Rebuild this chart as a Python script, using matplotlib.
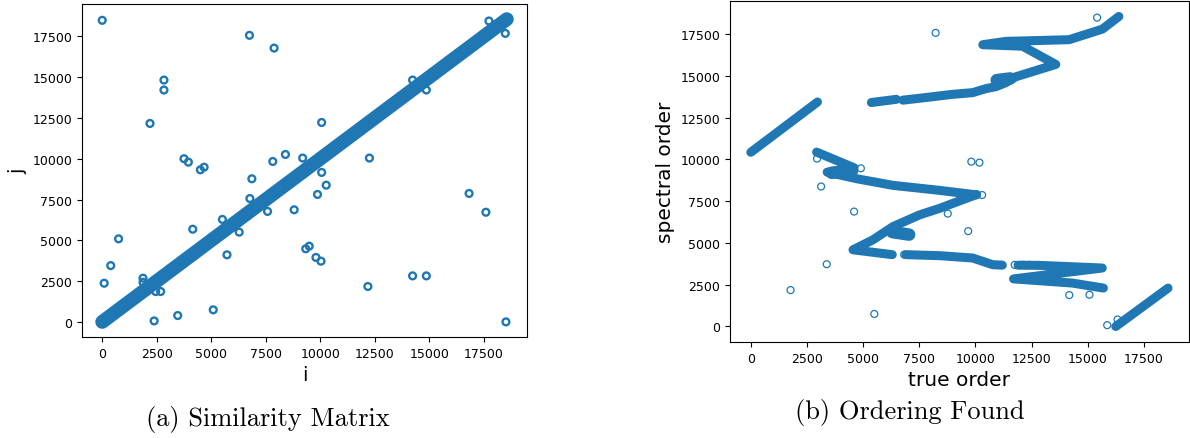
import matplotlib
matplotlib.use("Agg")
import matplotlib.pyplot as plt

# ---- (a) similarity matrix ----
diag_ends = [0, 18550]
sim_i = [0, 18510, 6750, 7880, 2830, 2830, 2190, 3750, 3950, 4500, 4670, 4150, 750, 390, 90,
         1870, 1870, 2450, 2680, 2380, 3460, 5090, 5510, 5720, 6280, 6770, 6860, 7580, 7820,
         8400, 8800, 9190, 10060, 10060, 10270, 9870, 9330, 9490, 9800, 10030, 12250, 12180,
         14230, 14860, 14230, 14860, 16820, 17590, 17730, 18480, 12020]
sim_j = [18480, 0, 17560, 16780, 14820, 14210, 12160, 10000, 9790, 9320, 9480, 5680, 5090, 3450, 2370,
         2680, 2430, 1860, 1860, 60, 390, 740, 6280, 4110, 5500, 7560, 8770, 6770, 9830,
         10260, 6870, 10040, 12220, 9160, 8380, 7810, 4480, 4640, 3950, 3720, 10040, 2170,
         14820, 14210, 2820, 2820, 7870, 6720, 18440, 17680, 11980]

# ---- (b) ordering found: traced bands (true order, spectral order) ----
band_x = [
    [0, 2970],
    [5370, 6480],
    [6770, 7810, 8990, 9880, 10470, 10920, 11360, 11800, 13580, 12100, 10330, 11360, 14170, 15650, 16390],
    [2930, 4600, 3400, 4700, 6330, 8400, 10050],
    [10050, 8400, 7510, 6330, 5440, 4550, 6300],
    [6900, 8400, 9880, 10770, 11200],
    [11900, 12840, 15650, 11700, 14320, 15700],
    [16250, 18580],
]
band_y = [
    [10430, 13440],
    [13410, 13600],
    [13550, 13710, 13900, 14000, 14240, 14360, 14600, 14950, 15690, 16780, 16870, 17070, 17170, 17800, 18560],
    [10440, 9500, 9240, 8850, 8450, 8150, 7880],
    [7900, 7070, 6680, 5980, 5190, 4590, 4300],
    [4300, 4240, 4100, 3700, 3670],
    [3670, 3660, 3500, 2850, 2600, 2300],
    [0, 2300],
]
blob_x = [[10950, 11550], [6300, 7050], [3600, 4500]]
blob_y = [[14750, 14850], [5650, 5500], [9200, 9300]]

ord_x = [8230, 15420, 2950, 4900, 3130, 9820, 10180, 10300, 4600, 8770, 9680, 3380, 1770, 5500,
         14180, 15080, 15870, 16330, 5380, 6800, 6620, 6830, 11170, 11750, 12100, 12420, 11200, 11450]
ord_y = [17580, 18490, 10050, 9470, 8380, 9870, 9810, 7870, 6880, 6760, 5710, 3730, 2180, 750,
         1880, 1900, 80, 420, 13400, 13560, 8400, 4300, 3690, 3690, 3690, 3690, 17020, 17020]

fig = plt.figure(figsize=(11.9, 4.39), dpi=100)
blue = "#1f77b4"

ax1 = fig.add_axes([0.0689, 0.230, 0.374, 0.7585])
ax1.plot(diag_ends, diag_ends, color=blue, lw=10, solid_capstyle="round")
ax1.scatter(sim_i, sim_j, s=24, facecolors="none", edgecolors=blue, linewidths=1.7)
ax1.set_xlabel("i", fontsize=14)
ax1.set_ylabel("j", fontsize=14)
ax1.set_xticks(range(0, 17501, 2500))
ax1.set_yticks(range(0, 17501, 2500))
ax1.tick_params(labelsize=9)

ax2 = fig.add_axes([0.6134, 0.2187, 0.3857, 0.7768])
for xs, ys in zip(band_x, band_y):
    ax2.plot(xs, ys, color=blue, lw=6.5, solid_capstyle="round", solid_joinstyle="round")
for xs, ys in zip(blob_x, blob_y):
    ax2.plot(xs, ys, color=blue, lw=9, solid_capstyle="round")
ax2.scatter(ord_x, ord_y, s=25, facecolors="none", edgecolors=blue, linewidths=0.9)
ax2.set_xlabel("true order", fontsize=14.5)
ax2.set_ylabel("spectral order", fontsize=14.5)
ax2.set_xticks(range(0, 17501, 2500))
ax2.set_yticks(range(0, 17501, 2500))
ax2.tick_params(labelsize=9)

fig.text(268 / 1190, 1 - 420 / 439, "(a) Similarity Matrix", family="cmr10",
         fontsize=19, ha="center", va="center")
fig.text(910 / 1190, 1 - 413 / 439, "(b) Ordering Found", family="cmr10",
         fontsize=19, ha="center", va="center")

fig.savefig("out.png", dpi=100)
